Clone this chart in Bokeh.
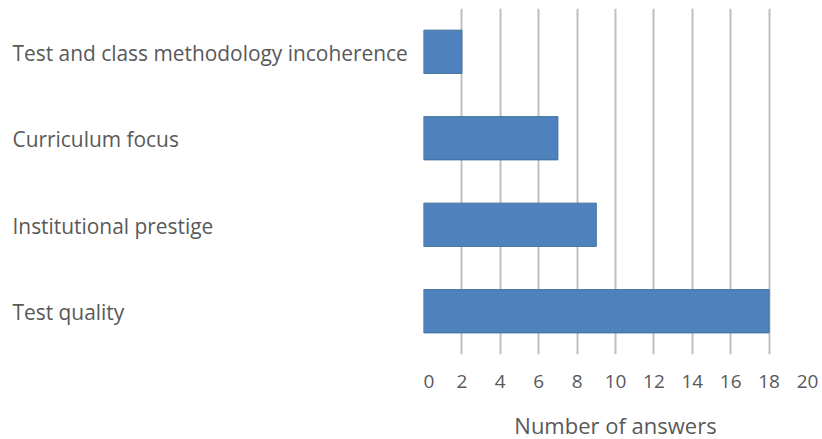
from bokeh.plotting import figure
from bokeh.layouts import row, column
from bokeh.models import Range1d, FixedTicker, ColumnDataSource
from bokeh.core.properties import value
from bokeh.embed import file_html
from bokeh.resources import INLINE

categories = ["Test and class methodology incoherence", "Curriculum focus",
              "Institutional prestige", "Test quality"]
answers = [2, 7, 9, 18]
x_ticks = [0, 2, 4, 6, 8, 10, 12, 14, 16, 18, 20]
x_label = "Number of answers"

FONT = "Open Sans"
TEXT_COLOR = "#595959"

n = len(categories)
ypos = [n - 1 - i for i in range(n)]
yr = Range1d(-0.5, n - 0.5)
xr = Range1d(0, 20)
src = ColumnDataSource(dict(y=ypos, right=answers, cat=categories))

# left panel: category labels
lab = figure(width=423, height=439, output_backend="svg", toolbar_location=None,
             x_range=Range1d(0, 423), y_range=yr,
             min_border_left=0, min_border_right=0, min_border_top=8,
             min_border_bottom=85)
lab.axis.visible = False
lab.grid.visible = False
lab.outline_line_color = None
lab.text(x=12, y="y", text="cat", source=src, text_align="left",
         text_baseline="middle", text_font=value(FONT),
         text_font_size="20.9px", text_color=TEXT_COLOR, y_offset=1)

# right panel: bars
p = figure(width=399, height=410, output_backend="svg", toolbar_location=None,
           x_range=xr, y_range=yr,
           min_border_left=0, min_border_right=15, min_border_top=8,
           min_border_bottom=56)
p.outline_line_color = None
p.hbar(y="y", left=0, right="right", height=0.5, source=src,
       fill_color="#4F81BD", line_color="#41719C", line_width=1)

p.yaxis.visible = False
p.ygrid.visible = False

p.xgrid.ticker = FixedTicker(ticks=x_ticks)
p.xgrid.grid_line_color = "#BFBFBF"
p.xgrid.grid_line_width = 2
p.xaxis.ticker = FixedTicker(ticks=x_ticks)
p.xaxis.axis_line_color = None
p.xaxis.major_tick_line_color = None
p.xaxis.minor_tick_line_color = None
p.xaxis.major_label_standoff = 14
p.xaxis.major_label_text_font = FONT
p.xaxis.major_label_text_font_size = "19px"
p.xaxis.major_label_text_color = TEXT_COLOR

# axis title panel
ttl = figure(width=399, height=29, output_backend="svg", toolbar_location=None,
             x_range=xr, y_range=Range1d(0, 1),
             min_border_left=0, min_border_right=15, min_border_top=0,
             min_border_bottom=0)
ttl.axis.visible = False
ttl.grid.visible = False
ttl.outline_line_color = None
ttl.text(x=[(xr.start + xr.end) / 2], y=[0.49], text=[x_label],
         text_align="center", text_baseline="middle", text_font=value(FONT),
         text_font_size="22px", text_color=TEXT_COLOR)

layout = row(lab, column(p, ttl, spacing=0), spacing=0)
open("out.html", "w").write(file_html(layout, INLINE))
